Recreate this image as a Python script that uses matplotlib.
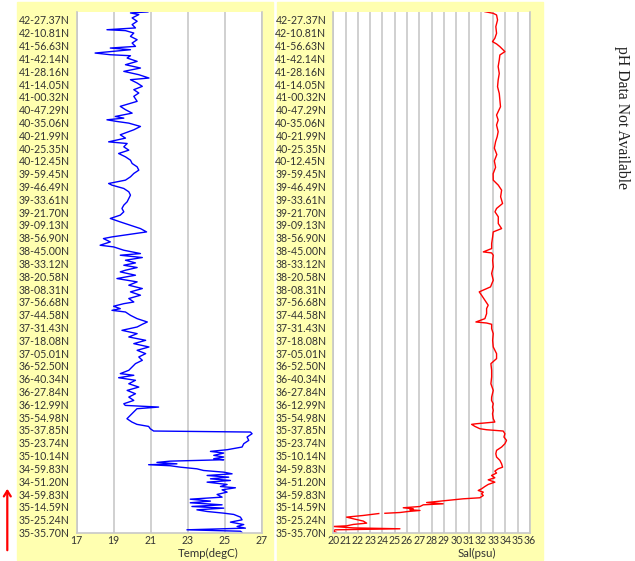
import numpy as np
import matplotlib
matplotlib.use("Agg")
import matplotlib.pyplot as plt
from matplotlib.patches import Rectangle, FancyArrowPatch

# latitude labels along the track, bottom (start) to top
lat_labels = ["35-35.70N", "35-25.24N", "35-14.59N", "34-59.83N", "34-51.20N",
              "34-59.83N", "35-10.14N", "35-23.74N", "35-37.85N", "35-54.98N",
              "36-12.99N", "36-27.84N", "36-40.34N", "36-52.50N", "37-05.01N",
              "37-18.08N", "37-31.43N", "37-44.58N", "37-56.68N", "38-08.31N",
              "38-20.58N", "38-33.12N", "38-45.00N", "38-56.90N", "39-09.13N",
              "39-21.70N", "39-33.61N", "39-46.49N", "39-59.45N", "40-12.45N",
              "40-25.35N", "40-21.99N", "40-35.06N", "40-47.29N", "41-00.32N",
              "41-14.05N", "41-28.16N", "41-42.14N", "41-56.63N", "42-10.81N",
              "42-27.37N"]

# temperature trace: position along track (label index) and value
temp_pos = [40.63, 40.55, 40.42, 40.16, 39.90, 39.64, 39.38, 39.24, 39.17, 38.98,
            38.72, 38.46, 38.20, 37.94, 37.81, 37.68, 37.42, 37.29, 37.21, 37.03,
            36.77, 36.51, 36.25, 35.99, 35.73, 35.47, 35.34, 35.08, 34.82, 34.56,
            34.30, 34.04, 33.65, 33.26, 33.00, 32.73, 32.47, 32.34, 32.21, 32.08,
            31.95, 31.69, 31.43, 31.04, 30.78,
            30.49, 30.36, 30.10, 29.84, 29.58, 29.32, 29.06, 28.80, 28.54, 28.28,
            28.02, 27.76, 27.50, 27.24, 27.11, 26.85, 26.59, 26.33, 26.07, 25.81,
            25.55, 25.29, 25.03, 24.77, 24.51, 24.24, 23.98, 23.72, 23.46, 23.28,
            23.07, 22.94, 22.68, 22.42, 22.29, 22.03, 21.77, 21.64, 21.46, 21.25,
            21.04, 20.86, 20.68, 20.47,
            20.34, 20.08, 19.82, 19.56, 19.30, 19.04, 18.78, 18.52, 18.26, 17.99,
            17.86, 17.66, 17.47, 17.34, 17.21, 16.95, 16.69, 16.43, 16.25, 16.04,
            15.78, 15.52, 15.26, 15.00, 14.74, 14.48, 14.22, 13.96, 13.70, 13.44,
            13.18, 12.92, 12.66, 12.40, 12.27, 12.08, 11.88, 11.61, 11.35, 11.09,
            10.83, 10.57, 10.31, 10.05,
            9.92, 9.79, 9.66, 9.40, 9.14, 8.88, 8.62, 8.44, 8.28, 8.10,
            7.92, 7.84, 7.71, 7.45, 7.19, 6.93, 6.67, 6.46, 6.33, 6.20,
            6.02, 5.89, 5.76, 5.68, 5.57, 5.47, 5.36, 5.29, 5.21, 5.10,
            4.97, 4.84, 4.71, 4.58, 4.45, 4.32, 4.19, 4.06, 3.93, 3.75,
            3.59, 3.49, 3.33, 3.15, 2.97, 2.76, 2.60, 2.45, 2.32, 2.16,
            2.03, 1.90, 1.77, 1.64, 1.51, 1.41, 1.20, 0.99, 0.81, 0.62,
            0.47, 0.34, 0.21, 0.10, 0.00]
temp_val = [20.85, 19.91, 20.36, 20.00, 20.27, 20.00, 20.18, 18.64, 19.64, 20.09,
            19.91, 20.27, 20.00, 20.18, 18.82, 19.91, 18.00, 18.82, 19.91, 19.73,
            20.27, 19.64, 20.45, 19.55, 20.36, 20.91, 19.91, 20.27, 20.55, 20.09,
            20.36, 20.09, 20.27, 19.36, 19.64, 20.00, 19.09, 19.55, 18.64, 19.18,
            19.82, 20.45, 20.09, 19.36, 19.64,
            18.73, 19.73, 19.55, 19.82, 19.27, 19.64, 19.91, 20.00, 20.27, 20.36,
            20.09, 19.91, 19.64, 18.73, 18.91, 19.55, 19.82, 19.91, 19.82, 19.73,
            19.55, 19.45, 19.55, 19.36, 18.82, 19.36, 19.91, 20.45, 20.78, 19.91,
            18.91, 18.45, 18.82, 18.27, 19.00, 19.55, 20.45, 19.36, 20.55, 19.64,
            20.18, 19.55, 20.27, 19.64,
            19.36, 20.18, 19.18, 20.27, 19.82, 20.55, 19.91, 20.45, 19.82, 20.09,
            19.55, 19.00, 19.36, 18.91, 19.64, 19.91, 20.27, 20.82, 20.55, 20.27,
            19.45, 20.27, 19.82, 20.73, 20.09, 20.91, 20.27, 20.73, 20.36, 20.55,
            20.18, 20.00, 19.82, 19.36, 20.09, 19.27, 20.18, 19.82, 20.36, 19.73,
            20.18, 19.82, 20.09, 19.55,
            19.63, 21.43, 20.26, 20.08, 19.90, 19.72, 19.99, 20.26, 20.89, 20.98,
            21.16, 26.39, 26.48, 26.21, 26.30, 26.03, 25.94, 25.13, 24.23, 24.95,
            24.41, 24.95, 24.41, 24.95, 22.06, 21.34, 22.42, 20.89, 22.06, 22.60,
            23.50, 23.86, 24.95, 25.40, 24.05, 25.22, 24.23, 25.31, 24.05, 25.13,
            24.77, 25.58, 24.86, 25.13, 24.59, 24.86, 23.14, 24.23, 23.14, 24.86,
            23.23, 24.95, 23.50, 24.05, 24.95, 25.49, 25.85, 25.94, 25.31, 26.03,
            25.67, 26.12, 22.96, 25.85, 25.94]

# salinity trace (nan = gap in the record)
sal_pos = [40.65, 40.52, 40.39, 40.00, 39.48, 38.96, 38.57, 38.31, 38.13, 37.92,
           37.66, 37.53, 37.27, 36.88, 36.36, 35.83, 35.31, 34.79, 34.27, 33.75,
           33.23, 32.84, 32.58, 32.19, 31.80, 31.28, 30.89, 30.50, 30.00, 29.50,
           29.00, 28.50, 28.00, 27.50, 27.11, 26.72, 26.20, 25.68, 25.29, 25.03,
           24.64, 24.11, 23.72, 23.46, 23.07, 22.55, 22.16, 21.90, 21.82, 21.64,
           21.25, 20.73, 20.21, 19.69, 19.17, 18.78, 18.52, 18.13, 17.74, 17.48,
           17.08, 16.69, 16.43, 16.35, 16.25, 15.91, 15.52, 15.00, 14.48, 13.96,
           13.57, 13.18, 12.66, 12.14, 11.61, 11.09, 10.57, 10.31, 10.05, 9.79,
           9.53, 9.27, 8.88, 8.62, 8.49, 8.44, 8.28, 8.10, 8.02, 7.92,
           7.71, 7.45, 7.19, 6.93, 6.67, 6.41, 6.15, 5.89, 5.63, 5.36,
           5.10, 4.97, 4.79, 4.64, 4.45, 4.27, 4.11, 3.93, 3.75, 3.59,
           3.41, 3.28, 3.15, 3.02, 2.89, 2.71, 2.63, 2.55, 2.45, 2.34,
           2.24, 2.16, 2.03, 1.93, 1.85, 1.77, 1.72, 1.64, 1.56, 1.50,
           np.nan, 1.48, 1.33, 1.20, 1.07, 0.89, 0.73, 0.63, 0.52, 0.47,
           0.36, 0.29, 0.21, 0.10, 0.00]
sal_val = [32.33, 33.01, 33.28, 33.36, 33.22, 33.28, 33.14, 32.95, 33.28, 33.55,
           33.82, 33.96, 33.55, 33.50, 33.41, 33.50, 33.41, 33.36, 33.50, 33.55,
           33.60, 33.41, 33.28, 33.41, 33.28, 33.41, 33.33, 33.20, 33.10, 33.30,
           33.10, 33.20, 33.00, 33.01, 33.42, 33.69, 33.61, 33.77, 33.28, 33.15,
           33.42, 33.42, 33.69, 33.01, 32.96, 32.88, 32.88, 32.20, 32.88, 33.01,
           32.96, 33.01, 32.88, 33.01, 32.79, 31.87, 32.06, 32.33, 32.60, 32.47,
           32.47, 32.33, 31.60, 32.47, 32.88, 32.88, 33.01, 32.96, 33.01, 33.28,
           33.28, 32.82, 32.88, 32.88, 32.82, 33.01, 32.88, 32.87, 33.01, 32.95,
           33.01, 32.95, 33.01, 33.14, 31.65, 31.25, 31.52, 31.92, 32.47, 33.82,
           33.96, 33.88, 34.09, 33.96, 33.69, 33.28, 33.22, 33.28, 33.55, 33.69,
           33.77, 33.41, 33.14, 33.28, 32.87, 33.14, 32.60, 33.14, 32.60, 32.33,
           32.06, 31.79, 32.20, 32.06, 32.20, 31.92, 30.57, 29.76, 28.67, 27.59,
           28.94, 27.32, 27.05, 25.69, 26.50, 26.23, 27.05, 26.10, 25.42, 24.20,
           np.nan, 23.70, 22.44, 21.08, 21.63, 22.44, 22.71, 21.63, 21.08, 20.00,
           21.63, 25.42, 20.14, 20.00, 20.27]

temp_ticks = [17, 19, 21, 23, 25, 27]
sal_ticks = list(range(20, 37))

W, H = 635, 561
plt.rcParams['font.family'] = ['Lato', 'DejaVu Sans']
fig = plt.figure(figsize=(W / 100, H / 100), dpi=100)

panel_yellow = '#ffffb0'
grid_grey = '#c8c8c8'
txt = '#333333'

# yellow backing panels
fig.patches.append(Rectangle((17 / W, 1 - 560 / H), 256 / W, 558 / H,
                             transform=fig.transFigure, color=panel_yellow, zorder=-10))
fig.patches.append(Rectangle((277 / W, 1 - 560 / H), 266 / W, 558 / H,
                             transform=fig.transFigure, color=panel_yellow, zorder=-10))

bottom = 1 - 532.5 / H
height = (532.5 - 12.3) / H
ax1 = fig.add_axes([76.6 / W, bottom, (261.7 - 76.6) / W, height])
ax2 = fig.add_axes([333.3 / W, bottom, (530 - 333.3) / W, height])

def style(ax, ticks, lo, hi):
    ax.set_facecolor('white')
    ax.set_xlim(lo, hi)
    ax.set_ylim(0, 40.6)
    ax.set_xticks(ticks)
    ax.set_yticks(range(len(lat_labels)))
    ax.set_yticklabels(lat_labels)
    ax.tick_params(length=0, labelsize=7.6, colors=txt)
    ax.tick_params(axis='y', pad=5)
    ax.tick_params(axis='x', pad=1.5)
    ax.grid(axis='x', color=grid_grey, linewidth=1.2)
    ax.set_axisbelow(True)
    ax.spines['top'].set_visible(False)
    for s in ['left', 'right', 'bottom']:
        ax.spines[s].set_color(grid_grey)
        ax.spines[s].set_linewidth(1.2)

style(ax1, temp_ticks, 17, 27)
style(ax2, sal_ticks, 20, 36)

ax1.plot(temp_val, temp_pos, color='#0000ff', linewidth=1.0)
ax2.plot(sal_val, sal_pos, color='#ff0000', linewidth=1.0)

ax1.text(0.71, -0.0395, 'Temp(degC)', transform=ax1.transAxes,
         ha='center', va='center', fontsize=8.3, color=txt)
ax2.text(0.73, -0.0395, 'Sal(psu)', transform=ax2.transAxes,
         ha='center', va='center', fontsize=8.3, color=txt)

fig.text(622 / W, 1 - 118 / H, 'pH Data Not Available', rotation=-90,
         ha='center', va='center', fontsize=11.3, family='Liberation Serif', color='#222222')

fig.patches.append(FancyArrowPatch((7.3 / W, 1 - 553 / H), (7.3 / W, 1 - 486 / H),
                                   transform=fig.transFigure, arrowstyle='->,head_length=4,head_width=2.5',
                                   color='#ff0000', linewidth=1.6, zorder=3))

fig.savefig('out.png', dpi=100)
